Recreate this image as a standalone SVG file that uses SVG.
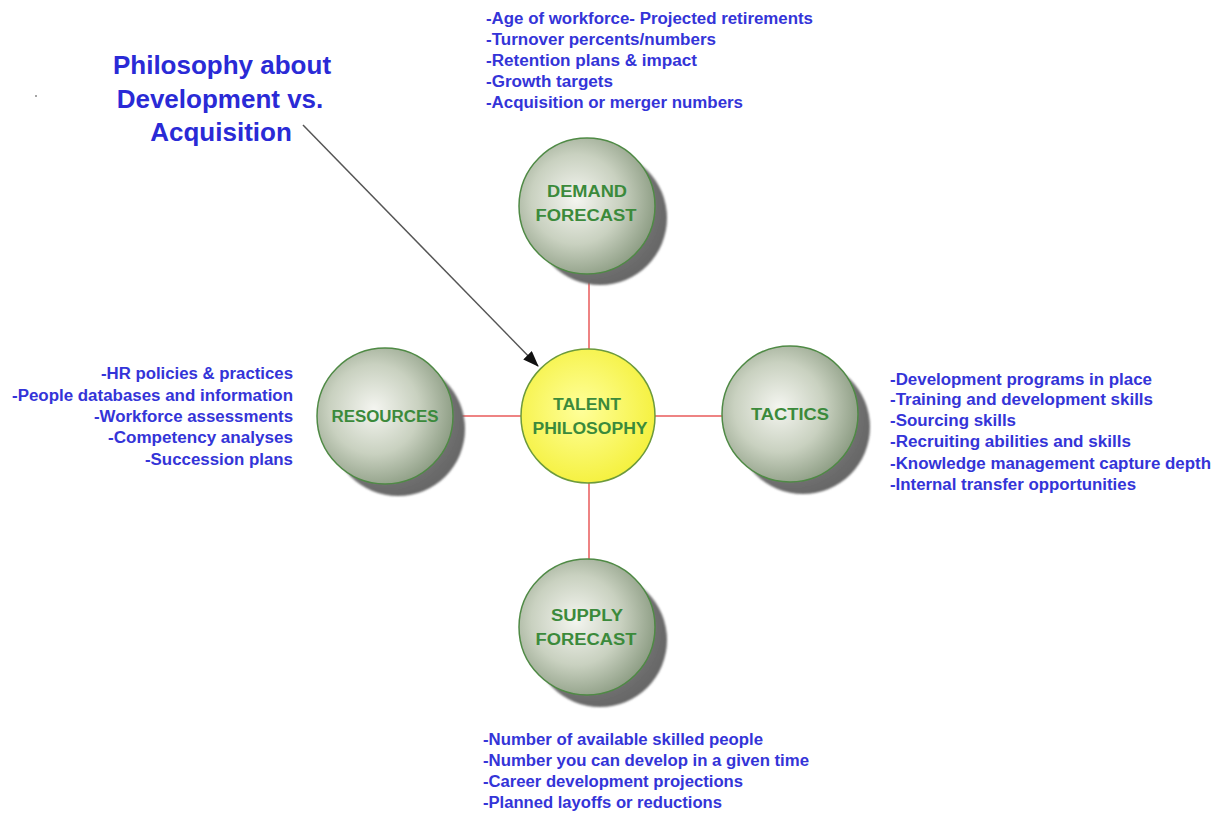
<svg xmlns="http://www.w3.org/2000/svg" width="1217" height="814" viewBox="0 0 1217 814">
<defs>
<radialGradient id="sphere" cx="0.42" cy="0.45" r="0.6">
<stop offset="0" stop-color="#f4f5f0"/>
<stop offset="0.55" stop-color="#c9d1c0"/>
<stop offset="1" stop-color="#8c9c83"/>
</radialGradient>
<radialGradient id="shade" cx="0.4" cy="0.4" r="0.65">
<stop offset="0" stop-color="#9a9a9a"/>
<stop offset="1" stop-color="#646464"/>
</radialGradient>
<radialGradient id="yellow" cx="0.45" cy="0.45" r="0.6">
<stop offset="0" stop-color="#ffff9a"/>
<stop offset="1" stop-color="#f4f03a"/>
</radialGradient>
<marker id="arr" markerWidth="16" markerHeight="12" refX="15" refY="6" orient="auto" markerUnits="userSpaceOnUse">
<path d="M0,0 L16,6 L0,12 Z" fill="#111"/>
</marker>
<filter id="blur" x="-20%" y="-20%" width="140%" height="140%"><feGaussianBlur stdDeviation="0.8"/></filter>
</defs>
<style>
.ball{fill:url(#sphere);stroke:#4f8a45;stroke-width:1.5}
.shadow{fill:url(#shade);filter:url(#blur)}
.center{fill:url(#yellow);stroke:#6c9a3c;stroke-width:1.5}
.lbl{font-family:"Liberation Sans",Arial,sans-serif;font-weight:bold;font-size:16px;fill:#3b8a3b;text-anchor:middle}
.note{font-family:"Liberation Sans",Arial,sans-serif;font-weight:bold;font-size:16px;fill:#3434d8}
.title{font-family:"Liberation Sans",Arial,sans-serif;font-weight:bold;font-size:26px;fill:#2a2ad6;text-anchor:middle}
.link{stroke:#e85a5a;stroke-width:1.5;fill:none}
</style>
<rect width="1217" height="814" fill="#ffffff"/>

<g id="connectors">
<line class="link" x1="589" y1="274" x2="589" y2="350"/>
<line class="link" x1="452" y1="416" x2="521" y2="416"/>
<line class="link" x1="654" y1="416" x2="723" y2="416"/>
<line class="link" x1="589" y1="483" x2="589" y2="560"/>
<line x1="303" y1="125" x2="538" y2="366" stroke="#555" stroke-width="1.5" marker-end="url(#arr)"/>
</g>

<g id="title">
<text class="title" x="222" y="74">Philosophy about</text>
<text class="title" x="220" y="108">Development vs.</text>
<text class="title" x="221" y="141">Acquisition</text>
<circle cx="36" cy="96" r="0.8" fill="#333"/>
</g>

<g id="demand">
<circle class="shadow" cx="600" cy="218" r="67"/>
<circle class="ball" cx="587" cy="206" r="68"/>
<text class="lbl" x="587" y="197" textLength="80" lengthAdjust="spacingAndGlyphs">DEMAND</text>
<text class="lbl" x="586" y="221" textLength="101" lengthAdjust="spacingAndGlyphs">FORECAST</text>
</g>

<g id="demand-notes">
<text class="note" x="486" y="24" textLength="327" lengthAdjust="spacingAndGlyphs">-Age of workforce- Projected retirements</text>
<text class="note" x="486" y="45" textLength="230" lengthAdjust="spacingAndGlyphs">-Turnover percents/numbers</text>
<text class="note" x="486" y="66" textLength="211" lengthAdjust="spacingAndGlyphs">-Retention plans &amp; impact</text>
<text class="note" x="486" y="87" textLength="127" lengthAdjust="spacingAndGlyphs">-Growth targets</text>
<text class="note" x="486" y="108" textLength="257" lengthAdjust="spacingAndGlyphs">-Acquisition or merger numbers</text>
</g>

<g id="resources">
<circle class="shadow" cx="398" cy="429" r="67"/>
<circle class="ball" cx="385" cy="416" r="68"/>
<text class="lbl" x="385" y="422" textLength="107" lengthAdjust="spacingAndGlyphs">RESOURCES</text>
</g>

<g id="resources-notes">
<text class="note" x="293" y="379" text-anchor="end" textLength="192" lengthAdjust="spacingAndGlyphs">-HR policies &amp; practices</text>
<text class="note" x="293" y="401" text-anchor="end" textLength="281" lengthAdjust="spacingAndGlyphs">-People databases and information</text>
<text class="note" x="293" y="422" text-anchor="end" textLength="199" lengthAdjust="spacingAndGlyphs">-Workforce assessments</text>
<text class="note" x="293" y="443" text-anchor="end" textLength="185" lengthAdjust="spacingAndGlyphs">-Competency analyses</text>
<text class="note" x="293" y="465" text-anchor="end" textLength="148" lengthAdjust="spacingAndGlyphs">-Succession plans</text>
</g>

<g id="talent">
<circle class="center" cx="588" cy="416" r="67"/>
<text class="lbl" x="587" y="410" textLength="68" lengthAdjust="spacingAndGlyphs">TALENT</text>
<text class="lbl" x="590" y="434" textLength="115" lengthAdjust="spacingAndGlyphs">PHILOSOPHY</text>
</g>

<g id="tactics">
<circle class="shadow" cx="803" cy="427" r="67"/>
<circle class="ball" cx="790" cy="414" r="68"/>
<text class="lbl" x="790" y="420" textLength="78" lengthAdjust="spacingAndGlyphs">TACTICS</text>
</g>

<g id="tactics-notes">
<text class="note" x="890" y="385" textLength="262" lengthAdjust="spacingAndGlyphs">-Development programs in place</text>
<text class="note" x="890" y="405" textLength="263" lengthAdjust="spacingAndGlyphs">-Training and development skills</text>
<text class="note" x="890" y="426" textLength="126" lengthAdjust="spacingAndGlyphs">-Sourcing skills</text>
<text class="note" x="890" y="447" textLength="241" lengthAdjust="spacingAndGlyphs">-Recruiting abilities and skills</text>
<text class="note" x="890" y="469" textLength="321" lengthAdjust="spacingAndGlyphs">-Knowledge management capture depth</text>
<text class="note" x="890" y="490" textLength="246" lengthAdjust="spacingAndGlyphs">-Internal transfer opportunities</text>
</g>

<g id="supply">
<circle class="shadow" cx="600" cy="640" r="67"/>
<circle class="ball" cx="587" cy="627" r="68"/>
<text class="lbl" x="587" y="621" textLength="72" lengthAdjust="spacingAndGlyphs">SUPPLY</text>
<text class="lbl" x="586" y="645" textLength="101" lengthAdjust="spacingAndGlyphs">FORECAST</text>
</g>

<g id="supply-notes">
<text class="note" x="483" y="745" textLength="280" lengthAdjust="spacingAndGlyphs">-Number of available skilled people</text>
<text class="note" x="483" y="766" textLength="326" lengthAdjust="spacingAndGlyphs">-Number you can develop in a given time</text>
<text class="note" x="483" y="787" textLength="260" lengthAdjust="spacingAndGlyphs">-Career development projections</text>
<text class="note" x="483" y="808" textLength="239" lengthAdjust="spacingAndGlyphs">-Planned layoffs or reductions</text>
</g>
</svg>
